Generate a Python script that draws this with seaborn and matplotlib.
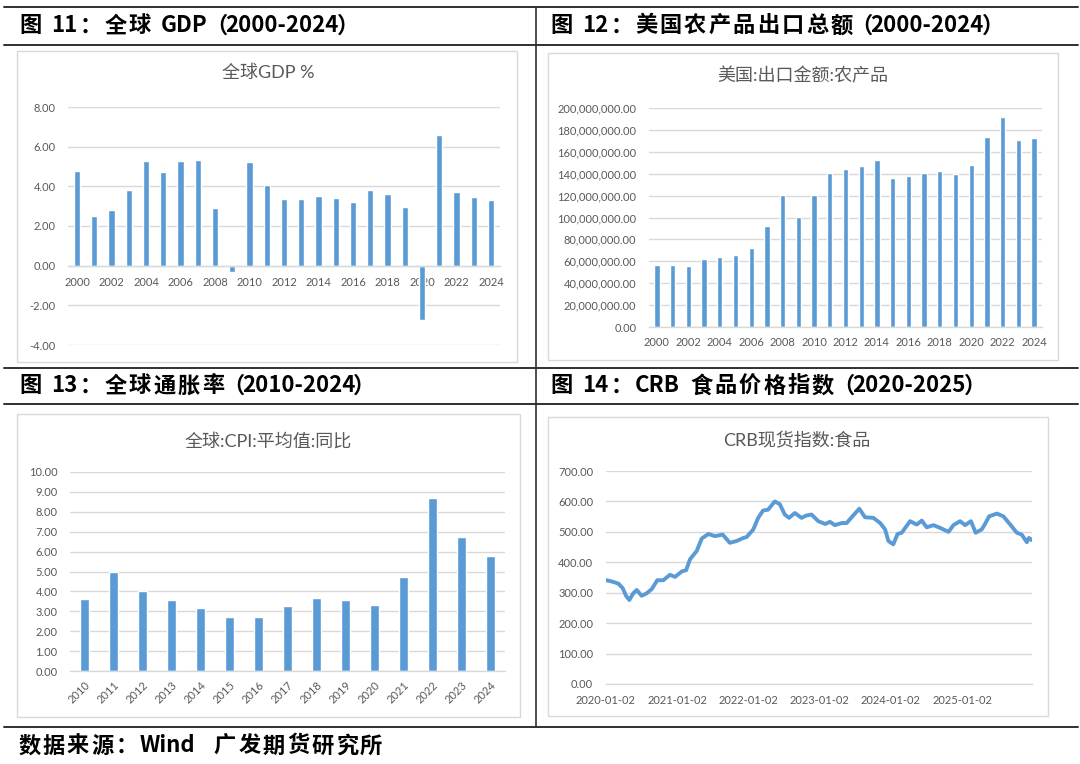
import numpy as np
import pandas as pd
import seaborn as sns
import matplotlib.pyplot as plt
from matplotlib.lines import Line2D
from matplotlib.patches import Rectangle
from matplotlib.ticker import FuncFormatter

# ---- data ----
gdp_years = [str(y) for y in range(2000, 2025)]
gdp_growth = [4.78, 2.48, 2.83, 3.82, 5.28, 4.72, 5.28, 5.33, 2.90, -0.33,
              5.23, 4.08, 3.35, 3.38, 3.53, 3.42, 3.22, 3.83, 3.63, 2.97,
              -2.72, 6.60, 3.73, 3.48, 3.32]

export_years = [str(y) for y in range(2000, 2025)]
us_ag_exports = [56.2, 56.8, 55.6, 62.3, 63.5, 65.3, 71.7, 92.1, 120.1, 100.9,
                 120.1, 141.0, 144.7, 147.4, 152.9, 135.9, 138.0, 141.0, 142.9, 139.5,
                 148.0, 173.6, 191.5, 171.1, 172.3]  # millions

cpi_years = [str(y) for y in range(2010, 2025)]
cpi_yoy = [3.62, 4.96, 4.02, 3.55, 3.16, 2.73, 2.73, 3.26, 3.65, 3.55,
           3.32, 4.71, 8.68, 6.74, 5.79]

crb_dates = ['2020-01-02', '2020-01-07', '2020-02-02', '2020-03-07', '2020-03-29', '2020-04-15',
             '2020-05-02', '2020-05-22', '2020-06-09', '2020-07-04', '2020-07-30',
             '2020-08-25', '2020-09-22', '2020-10-23', '2020-11-26', '2020-12-22',
             '2021-01-26', '2021-02-17', '2021-03-09', '2021-04-12', '2021-05-08',
             '2021-06-11', '2021-07-15', '2021-08-23', '2021-09-29', '2021-11-03',
             '2021-12-07', '2021-12-24', '2022-01-27', '2022-02-21', '2022-03-18',
             '2022-04-13', '2022-05-17', '2022-06-12', '2022-07-07', '2022-07-29',
             '2022-08-28', '2022-10-01', '2022-10-27', '2022-11-21', '2022-12-26',
             '2023-01-30', '2023-02-24', '2023-03-21', '2023-04-25', '2023-05-20',
             '2023-06-23', '2023-07-24', '2023-08-22', '2023-10-04', '2023-11-08',
             '2023-12-03', '2023-12-20', '2024-01-14', '2024-02-05', '2024-02-26',
             '2024-04-09', '2024-05-13', '2024-06-08', '2024-07-03', '2024-08-07',
             '2024-09-10', '2024-10-23', '2024-11-17', '2024-12-21', '2025-01-16',
             '2025-02-15', '2025-03-11', '2025-04-11', '2025-04-28', '2025-05-19',
             '2025-06-28', '2025-07-31', '2025-09-04', '2025-10-08', '2025-11-02',
             '2025-11-28', '2025-12-09', '2025-12-23']
crb_values = [340, 341, 337, 330, 315, 290,
              276, 298, 309, 290, 298,
              312, 341, 341, 359, 352,
              370, 374, 410, 437, 478,
              493, 486, 491, 464, 470,
              480, 483, 508, 546, 570,
              573, 600, 591, 557, 546,
              562, 546, 554, 557, 535,
              526, 533, 522, 529, 529,
              554, 576, 548, 546, 529,
              508, 470, 459, 493, 497,
              535, 524, 537, 515, 522,
              513, 500, 522, 535, 522,
              535, 497, 508, 526, 551,
              560, 551, 524, 497, 491,
              466, 480, 473]
crb_tick_dates = ['2020-01-02', '2021-01-02', '2022-01-02', '2023-01-02', '2024-01-02', '2025-01-02']

BLUE = '#5B9BD5'
GRID = '#D9D9D9'
TXT = '#595959'
W, H = 1080, 764

sns.set_theme(style='white')
plt.rcParams['font.family'] = ['Lato', 'Noto Sans CJK SC', 'DejaVu Sans']
plt.rcParams['axes.unicode_minus'] = False

fig = plt.figure(figsize=(10.8, 7.64), dpi=100)
renderer = fig.canvas.get_renderer()


def fx(x):
    return x / W


def fy(y):
    return 1 - y / H


def add_ax(x0, x1, ytop, ybot):
    return fig.add_axes([fx(x0), fy(ybot), (x1 - x0) / W, (ybot - ytop) / H])


def hline(x0, x1, y, lw=1.4, color='#303030'):
    fig.add_artist(Line2D([fx(x0), fx(x1)], [fy(y), fy(y)], lw=lw, color=color))


def box(x0, y0, x1, y1):
    fig.add_artist(Rectangle((fx(x0), fy(y1)), (x1 - x0) / W, (y1 - y0) / H,
                             fill=False, ec=GRID, lw=1.0, transform=fig.transFigure))


def header(x, y, s, pitch=24.4, size=16):
    # CJK glyphs on a fixed pitch, latin runs at natural width
    kw = dict(va='center', fontsize=size, fontweight='bold', color='black',
              family=['Noto Sans CJK SC', 'DejaVu Sans'])
    tokens, run = [], ''
    for ch in s:
        if ord(ch) < 0x2000 and ch != ' ':
            run += ch
            continue
        if run:
            tokens.append(run)
            run = ''
        tokens.append(ch)
    if run:
        tokens.append(run)
    cx = x
    for tok in tokens:
        if tok == ' ':
            cx += 8
        elif tok in ('（', '）'):
            fig.text(fx(cx + 8), fy(y), tok, ha='center', **kw)
            cx += 16
        elif len(tok) == 1 and ord(tok) >= 0x2000:
            fig.text(fx(cx + pitch / 2), fy(y), tok, ha='center', **kw)
            cx += pitch
        else:
            t = fig.text(fx(cx + 1), fy(y), tok, ha='left', **kw)
            cx += t.get_window_extent(renderer).width + 2


def style_ax(ax):
    for s in ['left', 'right', 'top']:
        ax.spines[s].set_visible(False)
    ax.spines['bottom'].set_color(GRID)
    ax.spines['bottom'].set_linewidth(1.0)
    ax.grid(axis='y', color=GRID, lw=1.0)
    ax.set_axisbelow(True)
    ax.tick_params(axis='y', length=0, pad=9, labelsize=8, labelcolor=TXT)
    ax.tick_params(axis='x', which='major', length=0, pad=5, labelsize=8, labelcolor=TXT)
    ax.tick_params(axis='x', which='minor', length=4, color=GRID, width=1.0)
    ax.set_xlabel('')
    ax.set_ylabel('')
    ax.set_facecolor('none')


# ---- frame: lines, headers, boxes ----
hline(4, 1078, 7)
hline(4, 1078, 45)
hline(4, 1078, 368)
hline(4, 1078, 404)
hline(4, 1078, 727)
fig.add_artist(Line2D([fx(536), fx(536)], [fy(7), fy(727)], lw=1.2, color='#303030'))

header(18, 26, '图 11：全球 GDP（2000-2024）')
header(549, 26, '图 12：美国农产品出口总额（2000-2024）')
header(18, 386, '图 13：全球通胀率（2010-2024）')
header(549, 386, '图 14：CRB 食品价格指数（2020-2025）')
header(17, 746, '数据来源：Wind  广发期货研究所')

box(17, 51, 517, 362)
box(548, 53, 1058, 360)
box(17, 414, 520, 717)
box(548, 417, 1048, 716)

tfont = dict(fontsize=13, color=TXT, ha='center', va='center')
fig.text(fx(268), fy(73), '全球GDP %', **tfont)
fig.text(fx(803), fy(76), '美国:出口金额:农产品', **tfont)
fig.text(fx(268), fy(441), '全球:CPI:平均值:同比', **tfont)
fig.text(fx(797), fy(441), 'CRB现货指数:食品', **tfont)

# ---- chart 11: global GDP ----
ax1 = add_ax(68.4, 499.6, 107, 345)
sns.barplot(x=gdp_years, y=gdp_growth, color=BLUE, saturation=1, width=0.36, ax=ax1)
style_ax(ax1)
ax1.set_ylim(-4, 8)
ax1.set_xlim(-0.5, len(gdp_years) - 0.5)
ax1.set_yticks(np.arange(-4, 8.1, 2))
ax1.yaxis.set_major_formatter(FuncFormatter(lambda v, p: f'{v:.2f}'))
ax1.spines['bottom'].set_position(('data', 0))
ax1.set_xticks(range(0, len(gdp_years), 2))
ax1.set_xticklabels(gdp_years[::2])
ax1.set_xticks(np.arange(-0.5, len(gdp_years), 2), minor=True)
ax1.tick_params(axis='x', which='major', pad=8)

# ---- chart 12: US agricultural exports ----
ax2 = add_ax(649, 1042, 108, 327)
sns.barplot(x=export_years, y=[v * 1e6 for v in us_ag_exports], color=BLUE, saturation=1,
            width=0.34, ax=ax2)
style_ax(ax2)
ax2.set_ylim(0, 200e6)
ax2.set_xlim(-0.5, len(export_years) - 0.5)
ax2.set_yticks(np.arange(0, 200e6 + 1, 20e6))
ax2.yaxis.set_major_formatter(FuncFormatter(lambda v, p: f'{v:,.2f}'))
ax2.set_xticks(range(0, len(export_years), 2))
ax2.set_xticklabels(export_years[::2])
ax2.set_xticks(np.arange(-0.5, len(export_years), 2), minor=True)
ax2.tick_params(axis='x', which='major', pad=7)

# ---- chart 13: global CPI ----
ax3 = add_ax(70, 505, 472, 671)
sns.barplot(x=cpi_years, y=cpi_yoy, color=BLUE, saturation=1, width=0.3, ax=ax3)
style_ax(ax3)
ax3.set_ylim(0, 10)
ax3.set_xlim(-0.5, len(cpi_years) - 0.5)
ax3.set_yticks(np.arange(0, 10.1, 1))
ax3.yaxis.set_major_formatter(FuncFormatter(lambda v, p: f'{v:.2f}'))
ax3.set_xticks(range(len(cpi_years)))
ax3.set_xticklabels(cpi_years, rotation=45, ha='right', rotation_mode='anchor')
ax3.set_xticks(np.arange(-0.5, len(cpi_years), 1), minor=True)
ax3.tick_params(axis='x', which='major', pad=6)

# ---- chart 14: CRB food index ----
ax4 = add_ax(605.7, 1031.7, 471, 684)
sns.lineplot(x=pd.to_datetime(crb_dates), y=crb_values, color=BLUE, linewidth=2.8, ax=ax4)
style_ax(ax4)
ax4.set_ylim(0, 700)
ax4.set_xlim(pd.Timestamp('2020-01-02'), pd.Timestamp('2025-12-23'))
ax4.set_yticks(np.arange(0, 701, 100))
ax4.yaxis.set_major_formatter(FuncFormatter(lambda v, p: f'{v:.2f}'))
ax4.set_xticks(pd.to_datetime(crb_tick_dates))
ax4.set_xticklabels(crb_tick_dates)
ax4.tick_params(axis='x', which='major', length=4, color=GRID, pad=4)

fig.savefig('out.png', dpi=100, facecolor='white')
